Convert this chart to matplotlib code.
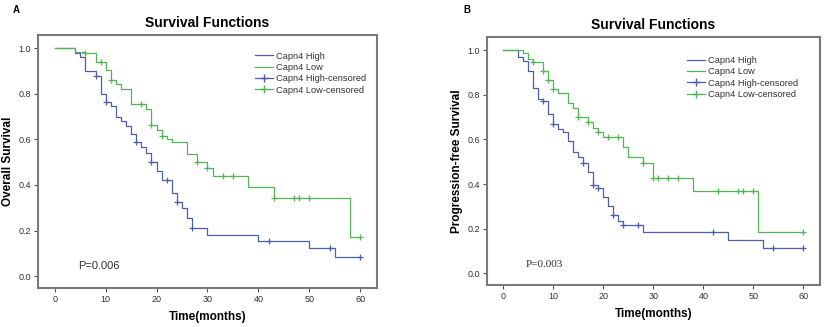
import matplotlib
matplotlib.use("Agg")
import matplotlib.pyplot as plt
from matplotlib.lines import Line2D

plt.rcParams['font.family'] = ['Liberation Sans', 'DejaVu Sans']

# ============================================================
# Colors
# ============================================================
color_high = "#4f5ea8"
color_low = "#55b455"
color_frame = "#7a7a7a"

# ============================================================
# Panel A: overall survival
# ============================================================
a_high_t = [0, 4, 5, 6, 8, 9, 10, 11, 12, 13, 14, 15, 16, 17, 18, 19, 20, 21, 23, 24, 25, 26, 27, 30, 40, 50, 55, 60]
a_high_s = [1.0, 0.98, 0.96, 0.90, 0.88, 0.80, 0.765, 0.745, 0.70, 0.68, 0.66, 0.625, 0.59, 0.565, 0.54, 0.50,
            0.46, 0.42, 0.365, 0.325, 0.30, 0.255, 0.21, 0.18, 0.155, 0.125, 0.083, 0.083]
a_high_cens_t = [8, 10, 16, 19, 22, 24, 27, 42, 54, 60]
a_high_cens_s = [0.88, 0.765, 0.59, 0.50, 0.42, 0.325, 0.21, 0.155, 0.125, 0.083]

a_low_t = [0, 4, 6, 8, 10, 11, 12, 13, 15, 18, 19, 20, 21, 22, 23, 26, 28, 30, 31, 38, 43, 58, 60]
a_low_s = [1.0, 0.985, 0.98, 0.94, 0.905, 0.86, 0.845, 0.82, 0.756, 0.735, 0.665, 0.64, 0.615, 0.60, 0.59,
           0.535, 0.50, 0.474, 0.44, 0.39, 0.343, 0.17, 0.17]
a_low_cens_t = [6, 9, 11, 17, 19, 21, 28, 30, 33, 35, 43, 47, 48, 50, 60]
a_low_cens_s = [0.98, 0.94, 0.86, 0.756, 0.665, 0.615, 0.50, 0.474, 0.44, 0.44, 0.343, 0.343, 0.343, 0.343, 0.17]

# ============================================================
# Panel B: progression-free survival
# ============================================================
b_high_t = [0, 3, 4, 5, 6, 7, 8, 9, 10, 11, 12, 13, 14, 15, 16, 17, 18, 19, 20, 21, 22, 23, 24, 28, 45, 52, 60]
b_high_s = [1.0, 0.97, 0.95, 0.905, 0.83, 0.78, 0.77, 0.714, 0.667, 0.648, 0.633, 0.592, 0.543, 0.52, 0.494,
            0.454, 0.398, 0.383, 0.341, 0.301, 0.262, 0.236, 0.218, 0.187, 0.15, 0.112, 0.112]
b_high_cens_t = [8, 10, 16, 18, 19, 22, 24, 27, 42, 54, 60]
b_high_cens_s = [0.77, 0.667, 0.494, 0.398, 0.383, 0.262, 0.218, 0.218, 0.187, 0.112, 0.112]

b_low_t = [0, 4, 5, 6, 8, 9, 10, 11, 13, 14, 15, 17, 18, 19, 20, 24, 25, 28, 30, 38, 51, 60]
b_low_s = [1.0, 0.985, 0.962, 0.947, 0.906, 0.865, 0.828, 0.806, 0.763, 0.742, 0.70, 0.678, 0.653, 0.633,
           0.611, 0.566, 0.52, 0.494, 0.427, 0.371, 0.187, 0.187]
b_low_cens_t = [6, 8, 9, 10, 15, 17, 19, 21, 23, 28, 30, 31, 33, 35, 43, 47, 48, 50, 60]
b_low_cens_s = [0.947, 0.906, 0.865, 0.828, 0.70, 0.678, 0.633, 0.611, 0.611, 0.494, 0.427, 0.427, 0.427,
                0.427, 0.371, 0.371, 0.371, 0.371, 0.187]

x_ticks = [0, 10, 20, 30, 40, 50, 60]
y_ticks = [0.0, 0.2, 0.4, 0.6, 0.8, 1.0]
legend_labels = ["Capn4 High", "Capn4 Low", "Capn4 High-censored", "Capn4 Low-censored"]

fig = plt.figure(figsize=(8.24, 3.27), dpi=100)


def draw_panel(ax, high, low, ylabel, ptext, pfont, legend_anchor):
    ht, hs, hct, hcs = high
    lt, ls, lct, lcs = low
    ax.step(ht, hs, where="post", color=color_high, linewidth=0.9)
    ax.step(lt, ls, where="post", color=color_low, linewidth=0.9)
    ax.plot(hct, hcs, "+", color=color_high, markersize=5, markeredgewidth=0.9)
    ax.plot(lct, lcs, "+", color=color_low, markersize=5, markeredgewidth=0.9)

    ax.set_xlim(-3.3, 63.3)
    ax.set_ylim(-0.052, 1.058)
    ax.set_xticks(x_ticks)
    ax.set_yticks(y_ticks)
    ax.set_yticklabels([f"{v:.1f}" for v in y_ticks])
    ax.tick_params(labelsize=6.5, length=3, width=0.8, color="#555555", labelcolor="#333333", pad=2)
    for sp in ax.spines.values():
        sp.set_color(color_frame)
        sp.set_linewidth(1.5)

    ax.set_title("Survival Functions", fontsize=10, fontweight="bold", pad=6)
    ax.set_xlabel("Time(months)", fontsize=8.5, fontweight="bold", labelpad=5)
    ax.set_ylabel(ylabel, fontsize=8.5, fontweight="bold", labelpad=3)
    ax.text(4.5, 0.03, ptext, fontsize=8, color="#333333", family=pfont)

    handles = [
        Line2D([], [], color=color_high, linewidth=0.9),
        Line2D([], [], color=color_low, linewidth=0.9),
        Line2D([], [], color=color_high, linewidth=0.9, marker="+", markersize=6),
        Line2D([], [], color=color_low, linewidth=0.9, marker="+", markersize=6),
    ]
    ax.legend(handles, legend_labels, loc="upper left", bbox_to_anchor=legend_anchor,
              frameon=False, fontsize=6.7, handlelength=2.0, handletextpad=0.3,
              labelspacing=0.25, borderpad=0.2, labelcolor="#333333")


ax_a = fig.add_axes([0.0461, 0.1193, 0.4114, 0.7737])
draw_panel(ax_a,
           (a_high_t, a_high_s, a_high_cens_t, a_high_cens_s),
           (a_low_t, a_low_s, a_low_cens_t, a_low_cens_s),
           "Overall Survival", "P=0.006", ["Liberation Sans"], (0.62, 0.96))

ax_b = fig.add_axes([0.591, 0.1284, 0.404, 0.758])
draw_panel(ax_b,
           (b_high_t, b_high_s, b_high_cens_t, b_high_cens_s),
           (b_low_t, b_low_s, b_low_cens_t, b_low_cens_s),
           "Progression-free Survival", "P=0.003", ["Liberation Serif"], (0.58, 0.95))

fig.text(13 / 824, 1 - 10 / 327, "A", fontsize=7, fontweight="bold", va="center")
fig.text(463 / 824, 1 - 10 / 327, "B", fontsize=7, fontweight="bold", va="center")

fig.savefig("out.png", dpi=100)
